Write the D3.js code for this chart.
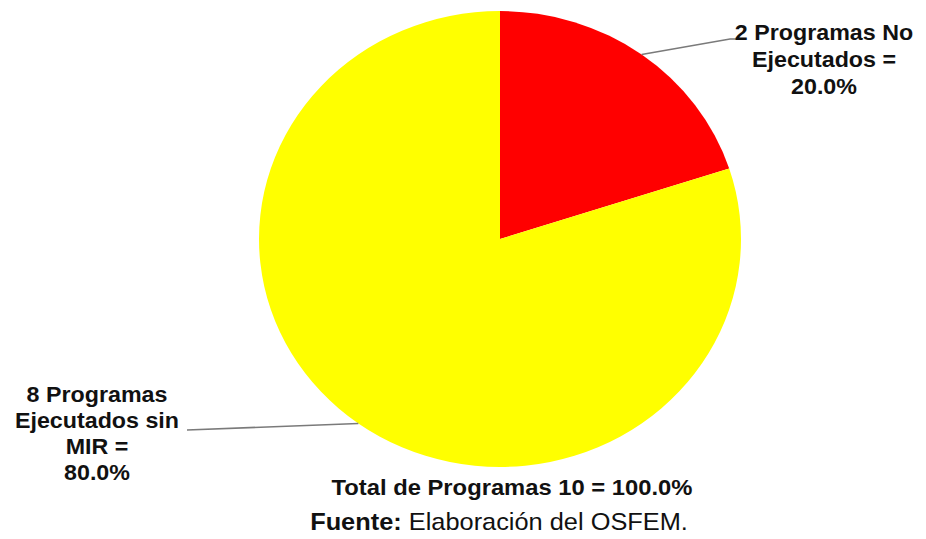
<!DOCTYPE html>
<html>
<head>
<meta charset="utf-8">
<script src="https://cdn.jsdelivr.net/npm/d3@7"></script>
<style>
  body { margin: 0; background: #fff; }
  svg { display: block; font-family: "Liberation Sans", Arial, sans-serif; }
</style>
</head>
<body>
<div id="chart-area"></div>
<script>
// data
const categories = ["2 Programas No Ejecutados", "8 Programas Ejecutados sin MIR"]
const values = [2, 8]
const colors = ["#ff0000", "#ffff00"]
const labelLines = [
    ["2 Programas No", "Ejecutados =", "20.0%"],
    ["8 Programas", "Ejecutados sin", "MIR =", "80.0%"]
]
const totalLabel = "Total de Programas 10 = 100.0%"

const width = 926
const height = 539
const sx = 1.057            // source image is slightly stretched horizontally
const cx = 500, cy = 239, r = 228

const svg = d3.select("#chart-area").append("svg")
    .attr("width", width)
    .attr("height", height)

const pie = d3.pie().sort(null).value(d => d)
const arcs = pie(values)
const arc = d3.arc().innerRadius(0).outerRadius(r)

const group = svg.append("g")
    .attr("transform", `translate(${cx}, ${cy}) scale(${sx}, 1)`)

group.selectAll("path").data(arcs).enter()
    .append("path")
    .attr("d", arc)
    .attr("fill", (d, i) => colors[i])

// point on the (stretched) rim at the middle of a slice
const rimPoint = d => {
    const a = (d.startAngle + d.endAngle) / 2
    return [cx + Math.sin(a) * r * sx, cy - Math.cos(a) * r]
}

const labelPos = [
    { x: 824, y: 40, dy: 27, line: [[730, 39], [737, 39]] },
    { x: 97, y: 402, dy: 26, line: [[187, 430]] }
]

const lineGen = d3.line()
arcs.forEach((d, i) => {
    const p = labelPos[i]
    svg.append("path")
        .attr("d", lineGen([rimPoint(d), ...p.line]))
        .attr("fill", "none")
        .attr("stroke", "#7a7a7a")
        .attr("stroke-width", 1.6)

    labelLines[i].forEach((t, j) => {
        svg.append("text")
            .attr("transform", `translate(${p.x}, ${p.y + j * p.dy}) scale(${sx}, 1)`)
            .attr("text-anchor", "middle")
            .attr("font-size", "22px")
            .attr("font-weight", "bold")
            .attr("fill", "#111")
            .text(t)
    })
})

svg.append("text")
    .attr("transform", `translate(512, 495) scale(${sx}, 1)`)
    .attr("text-anchor", "middle")
    .attr("font-size", "22.5px")
    .attr("font-weight", "bold")
    .attr("fill", "#111")
    .text(totalLabel)

const src = svg.append("text")
    .attr("transform", `translate(499, 530) scale(${sx}, 1)`)
    .attr("text-anchor", "middle")
    .attr("font-size", "24px")
    .attr("fill", "#111")
src.append("tspan").attr("font-weight", "bold").text("Fuente:")
src.append("tspan").text(" Elaboración del OSFEM.")
</script>
</body>
</html>
